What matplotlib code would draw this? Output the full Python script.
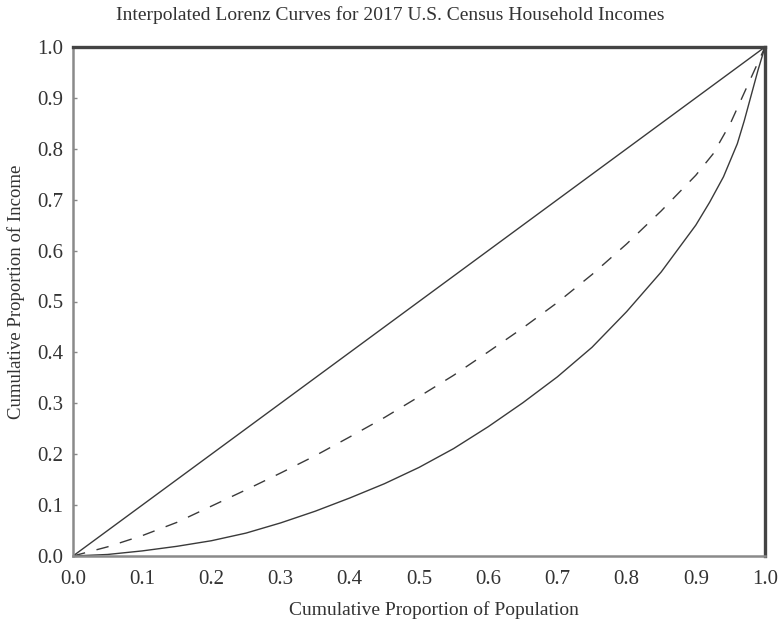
import matplotlib
matplotlib.use("Agg")
import matplotlib.pyplot as plt

plt.rcParams['font.family'] = ['Liberation Serif', 'DejaVu Serif']

# Lorenz curve from the 2017 household income distribution
pop_share = [0.0, 0.05, 0.1, 0.15, 0.2, 0.25, 0.3, 0.35, 0.4, 0.45, 0.5, 0.55,
             0.6, 0.65, 0.7, 0.75, 0.8, 0.85, 0.9, 0.92, 0.94, 0.96, 0.97,
             0.98, 0.99, 1.0]
income_share = [0.0, 0.003, 0.010, 0.019, 0.030, 0.045, 0.065, 0.088, 0.114,
                0.142, 0.174, 0.211, 0.254, 0.301, 0.352, 0.410, 0.480, 0.558,
                0.650, 0.695, 0.745, 0.810, 0.855, 0.905, 0.955, 1.0]

# Alternative (dashed) interpolation
pop_share_alt = [0.0, 0.05, 0.1, 0.15, 0.2, 0.25, 0.3, 0.35, 0.4, 0.45, 0.5,
                 0.55, 0.6, 0.65, 0.7, 0.75, 0.8, 0.85, 0.9, 0.925, 0.95,
                 0.975, 1.0]
income_share_alt = [0.0, 0.018, 0.040, 0.066, 0.098, 0.130, 0.163, 0.197,
                    0.234, 0.272, 0.313, 0.355, 0.401, 0.448, 0.498, 0.553,
                    0.613, 0.678, 0.748, 0.790, 0.850, 0.925, 1.0]

# Line of perfect equality
equality = [0.0, 1.0]

ticks = [round(0.1 * i, 1) for i in range(11)]
tick_labels = [f"{t:.1f}" for t in ticks]

text_color = '#333333'
line_color = '#3a3a3a'

W, H = 781, 626
fig = plt.figure(figsize=(W / 100, H / 100), dpi=100)
ax = fig.add_axes([73 / W, 1 - 556 / H, (765 - 73) / W, (556 - 47) / H])

ax.plot(equality, equality, color=line_color, lw=1.0)
ax.plot(pop_share_alt, income_share_alt, color=line_color, lw=1.0,
        dashes=(9, 8.5))
ax.plot(pop_share, income_share, color=line_color, lw=1.0)

ax.set_xlim(0, 1)
ax.set_ylim(0, 1)
ax.set_xticks(ticks)
ax.set_yticks(ticks)
ax.set_xticklabels(tick_labels)
ax.set_yticklabels(tick_labels)

ax.tick_params(axis='x', length=0, pad=10, labelsize=15, labelcolor=text_color)
ax.tick_params(axis='y', direction='in', length=3, width=1, color='#888888',
               pad=7, labelsize=15, labelcolor=text_color)

for side in ['left', 'bottom']:
    ax.spines[side].set_color('#8a8a8a')
    ax.spines[side].set_linewidth(1.8)
for side in ['top', 'right']:
    ax.spines[side].set_color('#444444')
    ax.spines[side].set_linewidth(2.4)

fig.text(0.5, 1 - 15 / H,
         'Interpolated Lorenz Curves for 2017 U.S. Census Household Incomes',
         ha='center', va='center', fontsize=14, color=text_color)
fig.text(434 / W, 1 - 610 / H, 'Cumulative Proportion of Population',
         ha='center', va='center', fontsize=14, color=text_color)
fig.text(16 / W, 1 - 292 / H, 'Cumulative Proportion of Income',
         ha='center', va='center', rotation=90, fontsize=13.5,
         color=text_color)

fig.savefig('out.png', dpi=100)
